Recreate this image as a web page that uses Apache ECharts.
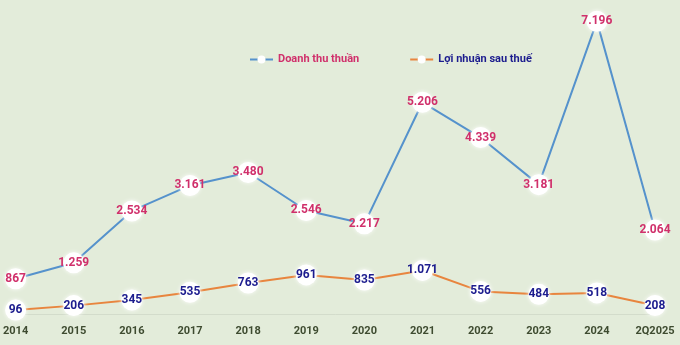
<!DOCTYPE html>
<html><head><meta charset="utf-8">
<script src="https://cdn.jsdelivr.net/npm/echarts@6/dist/echarts.min.js"></script>
<style>html,body{margin:0;padding:0;background:#e3ecda;}#c{width:680px;height:345px;}</style>
</head><body><div id="c"></div>
<script>
const categories = ['2014','2015','2016','2017','2018','2019','2020','2021','2022','2023','2024','2Q2025'];
const revenue = [867,1259,2534,3161,3480,2546,2217,5206,4339,3181,7196,2064];
const profit = [96,206,345,535,763,961,835,1071,556,484,518,208];
const seriesNames = ['Doanh thu thuần','Lợi nhuận sau thuế'];

function fmt(v){ return String(v).replace(/\B(?=(\d{3})+(?!\d))/g,'.'); }

const FONT = 'Roboto, "Open Sans", sans-serif';
const chart = echarts.init(document.getElementById('c'));
const marker = {color:'#ffffff', shadowColor:'rgba(255,255,255,0.9)', shadowBlur:4};
chart.setOption({
  backgroundColor:'#e3ecda',
  animation:false,
  textStyle:{fontFamily:FONT},
  legend:{
    top:49, left:244, itemGap:50, itemWidth:23, itemHeight:10,
    textStyle:{fontWeight:'bold', fontSize:11, fontFamily:FONT},
    data:[
      {name:seriesNames[0], textStyle:{color:'#d0306b'}},
      {name:seriesNames[1], textStyle:{color:'#1c1c8e'}}
    ]
  },
  grid:{left:14, right:25, top:9, bottom:31, containLabel:false},
  xAxis:{
    type:'category', data:categories, boundaryGap:false,
    axisLine:{lineStyle:{color:'#d3dccb', width:1}},
    axisTick:{show:false},
    axisLabel:{color:'#3e4b30', fontWeight:'bold', fontSize:11, margin:12, fontFamily:FONT, interval:0}
  },
  yAxis:{type:'value', min:0, max:7500, show:false, splitLine:{show:false}},
  series:[
    {
      name:seriesNames[0], type:'line', data:revenue,
      symbol:'circle', symbolSize:21,
      lineStyle:{color:'#5592cc', width:2},
      itemStyle:marker,
      label:{show:true, position:'inside', formatter:p=>fmt(p.value), color:'#d0306b', fontWeight:'bold', fontSize:12, fontFamily:FONT},
      z:3
    },
    {
      name:seriesNames[1], type:'line', data:profit,
      symbol:'circle', symbolSize:21,
      lineStyle:{color:'#e8853e', width:2},
      itemStyle:marker,
      label:{show:true, position:'inside', formatter:p=>fmt(p.value), color:'#1c1c8e', fontWeight:'bold', fontSize:12, fontFamily:FONT},
      z:3
    }
  ]
});
</script></body></html>
